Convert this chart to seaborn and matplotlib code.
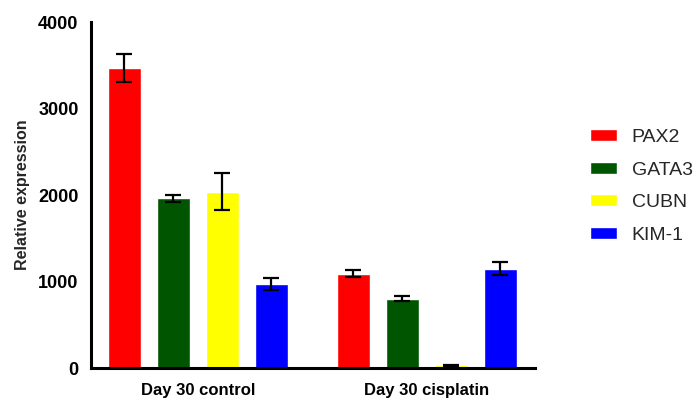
import pandas as pd
import numpy as np
import matplotlib
matplotlib.use('Agg')
import matplotlib.pyplot as plt
import seaborn as sns

groups = ['Day 30 control', 'Day 30 cisplatin']
genes = ['PAX2', 'GATA3', 'CUBN', 'KIM-1']
control_mean = [3470, 1960, 2040, 970]
control_err = [160, 45, 210, 65]
cisplatin_mean = [1090, 800, 30, 1150]
cisplatin_err = [40, 27, 6, 75]
colors = ['#ff0000', '#005500', '#ffff00', '#0000ff']

df = pd.DataFrame({
    'group': [groups[0]] * 4 + [groups[1]] * 4,
    'gene': genes * 2,
    'value': control_mean + cisplatin_mean,
    'err': control_err + cisplatin_err,
})

sns.set_style('white')
plt.rcParams['font.family'] = ['Liberation Sans', 'DejaVu Sans']

fig = plt.figure(figsize=(6.97, 4.03), dpi=100)
ax = fig.add_axes([0.1306, 0.0868, 0.637, 0.8586])
sns.barplot(data=df, x='group', y='value', hue='gene', palette=colors,
            hue_order=genes, order=groups, width=0.856, gap=0.33,
            saturation=1, errorbar=None, ax=ax, legend=True)

# error bars on each bar, taken from the patches seaborn drew
for gi, gene in enumerate(genes):
    cont = ax.containers[gi]
    sub = df[df['gene'] == gene].set_index('group').loc[groups]
    xs = [b.get_x() + b.get_width() / 2 for b in cont]
    ax.errorbar(xs, sub['value'], yerr=sub['err'], fmt='none', ecolor='black',
                elinewidth=1.6, capsize=6, capthick=1.6, zorder=5)

ax.set_ylim(0, 4000)
ax.set_yticks([0, 1000, 2000, 3000, 4000])
ax.set_xlim(-0.467, 1.472)
ax.set_xlabel('')
ax.set_ylabel('Relative expression', fontsize=11.5, fontweight='bold', labelpad=6)
for s in ['top', 'right']:
    ax.spines[s].set_visible(False)
for s in ['left', 'bottom']:
    ax.spines[s].set_linewidth(2.2)
    ax.spines[s].set_color('black')
ax.tick_params(axis='both', direction='out', length=7, width=2.2, colors='black')
ax.tick_params(axis='y', labelsize=13, pad=2)
ax.tick_params(axis='x', labelsize=12, pad=4)
for lab in ax.get_xticklabels() + ax.get_yticklabels():
    lab.set_fontweight('bold')

leg = ax.legend(loc='center left', bbox_to_anchor=(1.085, 0.525), frameon=False,
                fontsize=14, handlelength=1.35, handleheight=0.55,
                labelspacing=0.8, handletextpad=0.78)

fig.savefig('out.png', dpi=100)
